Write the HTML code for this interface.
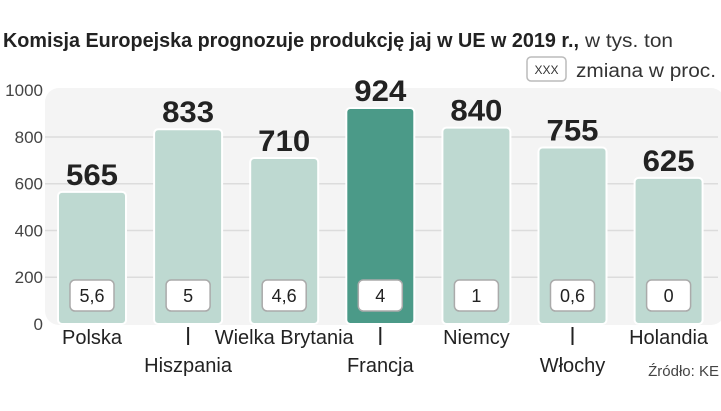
<!DOCTYPE html>
<html><head><meta charset="utf-8"><style>
body{margin:0;background:#fff;width:721px;height:406px;overflow:hidden;font-family:"Liberation Sans",sans-serif}
</style></head><body>
<svg width="721" height="406" id="c" style="font-family:'Liberation Sans',sans-serif">
<text x="3" y="47" font-size="20" font-weight="bold" fill="#222" textLength="576" lengthAdjust="spacingAndGlyphs">Komisja Europejska prognozuje produkcję jaj w UE w 2019 r.,</text>
<text x="585" y="47" font-size="19" fill="#333" textLength="88" lengthAdjust="spacingAndGlyphs">w tys. ton</text>
<rect x="527" y="57" width="39" height="24" rx="4" fill="#fff" stroke="#bbb" stroke-width="1.5"/>
<text x="546.5" y="74" font-size="12" text-anchor="middle" fill="#333">XXX</text>
<text x="576" y="77" font-size="19" fill="#333" textLength="140" lengthAdjust="spacingAndGlyphs">zmiana w proc.</text>
<rect x="45" y="88" width="680" height="237" rx="14" fill="#f4f4f4"/>
<g id="grid"></g><g id="bars"></g>
</svg>
<script>
const categories=["Polska","Hiszpania","Wielka Brytania","Francja","Niemcy","Włochy","Holandia"];
const values=[565,833,710,924,840,755,625];
const changes=["5,6","5","4,6","4","1","0,6","0"];
const ticks=[0,200,400,600,800,1000];
const NS="http://www.w3.org/2000/svg";
const svg=document.getElementById('c');
const y0=324,pxPer=0.2338;
function y(v){return y0-v*pxPer;}
function x(i){return 92+i*96.1;}
function mk(t,a,p){const e=document.createElementNS(NS,t);for(const k in a)e.setAttribute(k,a[k]);(p||svg).appendChild(e);return e;}
const g=document.getElementById('grid'),b=document.getElementById('bars');
ticks.forEach(t=>{
 if(t>0&&t<1000){const l=mk('line',{x1:45,x2:718,y1:y(t),y2:y(t),stroke:'#dcdcdc','stroke-width':1.5},g);
 
 }
 const tx=mk('text',{x:43,y:y(t)+6,'font-size':17,'text-anchor':'end',fill:'#444'},g);tx.textContent=t;
 
 
});
values.forEach((v,i)=>{
 const cx=x(i),dark=i===3;
 const r=mk('rect',{x:cx-34,y:y(v),width:68,height:y0-y(v),rx:4,fill:dark?'#4b9a88':'#bed9d1',stroke:'#fff','stroke-width':2},b);
 
 
 const vt=mk('text',{x:cx,y:y(v)-7,'font-size':30,'font-weight':'bold','text-anchor':'middle',fill:'#222',textLength:52,lengthAdjust:'spacingAndGlyphs'},b);vt.textContent=v;
 
 
 const bx=mk('rect',{x:cx-22,y:280,width:44,height:31,rx:5,fill:'#fff',stroke:'#aaa','stroke-width':1.5},b);
 
 
 const ct=mk('text',{x:cx,y:302,'font-size':18,'text-anchor':'middle',fill:'#222'},b);ct.textContent=changes[i];
 
 
 const odd=i%2===1;
 if(odd){const tk=mk('line',{x1:cx,x2:cx,y1:327,y2:345,stroke:'#222','stroke-width':2},b);
 
 }
 const lt=mk('text',{x:cx,y:odd?372:344,'font-size':20,'text-anchor':'middle',fill:'#222'},b);lt.textContent=categories[i];
 
 
});
const src=mk('text',{x:719,y:376,'font-size':15,'text-anchor':'end',fill:'#444'});src.textContent="Źródło: KE";


</script>
</body></html>
